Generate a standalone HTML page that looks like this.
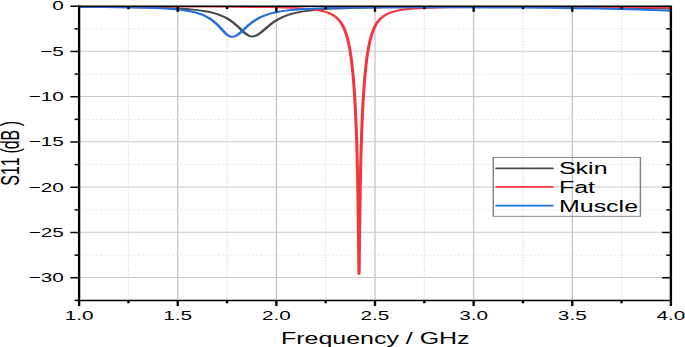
<!DOCTYPE html>
<html><head><meta charset="utf-8"><style>
html,body{margin:0;padding:0;background:#fff;}
svg{display:block;}
text{font-family:"Liberation Sans",sans-serif;fill:#000;font-kerning:none;white-space:pre;}
.tk{font-size:13.3px;}
.tt{font-size:16px;}
.lg{font-size:16px;}
</style></head><body>
<svg width="685" height="347" viewBox="0 0 439.103 347" preserveAspectRatio="none">
<rect x="0" y="0" width="439.103" height="347" fill="#fff"/>
<line x1="82.32" y1="6.2" x2="82.32" y2="300.4" stroke="#dedede" stroke-width="0.8" stroke-dasharray="1.2 1.5"/>
<line x1="113.93" y1="6.2" x2="113.93" y2="300.4" stroke="#cacaca" stroke-width="0.9"/>
<line x1="145.54" y1="6.2" x2="145.54" y2="300.4" stroke="#dedede" stroke-width="0.8" stroke-dasharray="1.2 1.5"/>
<line x1="177.16" y1="6.2" x2="177.16" y2="300.4" stroke="#cacaca" stroke-width="0.9"/>
<line x1="208.77" y1="6.2" x2="208.77" y2="300.4" stroke="#dedede" stroke-width="0.8" stroke-dasharray="1.2 1.5"/>
<line x1="240.38" y1="6.2" x2="240.38" y2="300.4" stroke="#cacaca" stroke-width="0.9"/>
<line x1="272.00" y1="6.2" x2="272.00" y2="300.4" stroke="#dedede" stroke-width="0.8" stroke-dasharray="1.2 1.5"/>
<line x1="303.61" y1="6.2" x2="303.61" y2="300.4" stroke="#cacaca" stroke-width="0.9"/>
<line x1="335.22" y1="6.2" x2="335.22" y2="300.4" stroke="#dedede" stroke-width="0.8" stroke-dasharray="1.2 1.5"/>
<line x1="366.84" y1="6.2" x2="366.84" y2="300.4" stroke="#cacaca" stroke-width="0.9"/>
<line x1="398.45" y1="6.2" x2="398.45" y2="300.4" stroke="#dedede" stroke-width="0.8" stroke-dasharray="1.2 1.5"/>
<line x1="50.71" y1="28.83" x2="430.06" y2="28.83" stroke="#dedede" stroke-width="0.9" stroke-dasharray="1.2 1.5"/>
<line x1="50.71" y1="51.16" x2="430.06" y2="51.16" stroke="#cacaca" stroke-width="1.0"/>
<line x1="50.71" y1="74.09" x2="430.06" y2="74.09" stroke="#dedede" stroke-width="0.9" stroke-dasharray="1.2 1.5"/>
<line x1="50.71" y1="96.42" x2="430.06" y2="96.42" stroke="#cacaca" stroke-width="1.0"/>
<line x1="50.71" y1="119.35" x2="430.06" y2="119.35" stroke="#dedede" stroke-width="0.9" stroke-dasharray="1.2 1.5"/>
<line x1="50.71" y1="141.68" x2="430.06" y2="141.68" stroke="#cacaca" stroke-width="1.0"/>
<line x1="50.71" y1="164.62" x2="430.06" y2="164.62" stroke="#dedede" stroke-width="0.9" stroke-dasharray="1.2 1.5"/>
<line x1="50.71" y1="186.95" x2="430.06" y2="186.95" stroke="#cacaca" stroke-width="1.0"/>
<line x1="50.71" y1="209.88" x2="430.06" y2="209.88" stroke="#dedede" stroke-width="0.9" stroke-dasharray="1.2 1.5"/>
<line x1="50.71" y1="232.21" x2="430.06" y2="232.21" stroke="#cacaca" stroke-width="1.0"/>
<line x1="50.71" y1="255.14" x2="430.06" y2="255.14" stroke="#dedede" stroke-width="0.9" stroke-dasharray="1.2 1.5"/>
<line x1="50.71" y1="277.47" x2="430.06" y2="277.47" stroke="#cacaca" stroke-width="1.0"/>
<defs><clipPath id="pc"><rect x="50.71" y="6.2" width="379.36" height="294.20"/></clipPath></defs><g clip-path="url(#pc)">
<path d="M50.71 6.73 L69.37 6.92 L84.20 7.18 L96.16 7.52 L105.93 7.95 L114.05 8.51 L117.59 8.84 L120.82 9.21 L123.81 9.63 L126.55 10.10 L129.09 10.62 L131.45 11.20 L133.48 11.79 L135.39 12.44 L137.19 13.15 L138.88 13.93 L140.49 14.78 L142.02 15.71 L143.47 16.72 L144.87 17.83 L146.16 18.97 L147.43 20.22 L148.67 21.57 L149.92 23.07 L152.13 26.04 L156.31 32.12 L157.22 33.33 L158.03 34.29 L159.00 35.27 L159.91 35.94 L160.80 36.35 L161.23 36.45 L161.65 36.48 L162.54 36.37 L163.45 36.02 L164.39 35.42 L165.37 34.57 L166.40 33.50 L167.57 32.08 L171.53 26.81 L173.11 24.79 L174.44 23.21 L175.74 21.78 L177.52 20.01 L179.36 18.42 L181.26 17.01 L183.24 15.74 L185.53 14.50 L187.98 13.41 L190.63 12.45 L193.50 11.60 L196.62 10.85 L200.06 10.20 L203.84 9.63 L208.04 9.13 L213.75 8.63 L220.29 8.21 L227.83 7.86 L236.58 7.58 L246.81 7.37 L258.76 7.20 L272.76 7.09 L288.87 7.02 L309.90 7.01 L331.91 7.07 L352.95 7.18 L372.19 7.36 L388.85 7.59 L403.86 7.87 L417.49 8.20 L430.06 8.61" fill="none" stroke="#4a4a4a" stroke-width="1.95" stroke-linejoin="round"/>
<path d="M50.71 6.35 L112.88 6.48 L133.65 6.59 L149.87 6.72 L162.82 6.91 L173.16 7.15 L181.53 7.46 L188.37 7.86 L194.31 8.40 L196.86 8.72 L199.20 9.09 L201.34 9.49 L203.30 9.95 L205.09 10.46 L206.74 11.03 L208.27 11.67 L209.67 12.37 L210.97 13.14 L212.19 14.01 L213.31 14.96 L214.35 15.99 L215.32 17.14 L216.23 18.39 L217.27 20.09 L218.22 21.97 L219.10 24.06 L219.92 26.37 L220.70 28.95 L221.40 31.75 L222.07 34.86 L222.71 38.29 L223.30 42.06 L223.86 46.17 L224.38 50.60 L224.87 55.48 L225.34 60.81 L225.77 66.44 L226.55 79.01 L227.23 93.29 L227.83 109.46 L228.35 127.91 L228.79 148.71 L229.12 169.00 L229.41 192.50 L229.66 219.52 L230.00 265.06 L230.08 271.88 L230.14 273.86 L230.21 271.88 L230.28 265.06 L230.62 219.52 L230.89 191.33 L231.18 168.11 L231.52 147.35 L231.98 126.38 L232.51 107.92 L233.13 91.52 L233.85 76.98 L234.67 64.37 L235.12 58.71 L235.60 53.53 L236.11 48.81 L236.65 44.43 L237.24 40.40 L237.86 36.73 L238.51 33.41 L239.21 30.42 L239.97 27.65 L240.78 25.17 L241.65 22.93 L242.58 20.93 L243.60 19.13 L244.70 17.52 L245.68 16.31 L246.73 15.22 L247.87 14.23 L249.10 13.33 L250.42 12.52 L251.85 11.79 L253.41 11.14 L255.10 10.55 L256.94 10.03 L258.94 9.56 L261.14 9.15 L263.54 8.79 L266.18 8.46 L269.10 8.18 L275.91 7.72 L285.69 7.33 L298.33 7.07 L314.85 6.91 L335.86 6.85 L362.18 6.90 L387.88 7.06 L410.26 7.31 L430.06 7.66" fill="none" stroke="#f4363c" stroke-width="1.95" stroke-linejoin="round"/>
<path d="M50.71 6.83 L67.16 7.03 L80.24 7.29 L90.82 7.64 L99.44 8.08 L106.62 8.64 L109.75 8.98 L112.62 9.36 L115.26 9.78 L117.69 10.25 L119.93 10.78 L122.01 11.36 L123.81 11.95 L125.50 12.61 L127.08 13.32 L128.59 14.11 L130.00 14.96 L131.36 15.90 L132.65 16.92 L133.90 18.04 L135.05 19.19 L136.16 20.44 L137.26 21.81 L138.36 23.31 L140.32 26.29 L144.03 32.42 L144.82 33.62 L145.54 34.59 L146.40 35.57 L147.21 36.25 L147.99 36.65 L148.36 36.75 L148.74 36.79 L149.55 36.69 L150.39 36.35 L151.25 35.77 L152.16 34.94 L153.13 33.85 L154.24 32.41 L158.01 27.01 L159.54 24.91 L160.86 23.24 L162.14 21.74 L163.89 19.91 L165.69 18.29 L167.56 16.84 L169.55 15.54 L171.83 14.29 L174.30 13.20 L176.98 12.24 L179.91 11.39 L183.14 10.66 L186.69 10.03 L190.65 9.48 L195.06 9.01 L202.42 8.46 L211.20 8.03 L221.76 7.71 L234.56 7.48 L250.83 7.34 L270.29 7.28 L292.45 7.32 L315.16 7.45 L334.78 7.64 L352.74 7.89 L368.92 8.20 L383.53 8.57 L396.69 9.01 L408.71 9.52 L419.76 10.12 L430.06 10.81" fill="none" stroke="#1f6fe0" stroke-width="1.95" stroke-linejoin="round"/>
</g>
<rect x="316.22" y="157.5" width="94.29" height="58.80" fill="none" stroke="#808080" stroke-width="0.9"/>
<line x1="318.27" y1="168.3" x2="354.17" y2="168.3" stroke="#4a4a4a" stroke-width="1.8" stroke-linecap="round"/>
<text x="358.33" y="174.00" class="lg">Skin</text>
<line x1="318.27" y1="186.8" x2="354.17" y2="186.8" stroke="#f4363c" stroke-width="1.8" stroke-linecap="round"/>
<text x="358.33" y="192.70" class="lg">Fat</text>
<line x1="318.27" y1="205.6" x2="354.17" y2="205.6" stroke="#1f6fe0" stroke-width="1.8" stroke-linecap="round"/>
<text x="358.33" y="212.00" class="lg">Muscle</text>
<line x1="50.71" y1="6.2" x2="430.06" y2="6.2" stroke="#000" stroke-width="1.5"/>
<line x1="50.71" y1="300.4" x2="430.06" y2="300.4" stroke="#000" stroke-width="1.5"/>
<line x1="50.71" y1="5.45" x2="50.71" y2="301.15" stroke="#000" stroke-width="1.5"/>
<line x1="430.06" y1="5.45" x2="430.06" y2="301.15" stroke="#000" stroke-width="1.5"/>
<line x1="50.71" y1="300.4" x2="50.71" y2="306.0" stroke="#000" stroke-width="1.5"/>
<text x="50.71" y="319.9" class="tk" text-anchor="middle">1.0</text>
<line x1="82.32" y1="300.4" x2="82.32" y2="303.29999999999995" stroke="#000" stroke-width="1.5"/>
<line x1="82.32" y1="6.2" x2="82.32" y2="9.1" stroke="#000" stroke-width="1.5"/>
<line x1="113.93" y1="300.4" x2="113.93" y2="306.0" stroke="#000" stroke-width="1.5"/>
<line x1="113.93" y1="6.2" x2="113.93" y2="11.8" stroke="#000" stroke-width="1.5"/>
<text x="113.93" y="319.9" class="tk" text-anchor="middle">1.5</text>
<line x1="145.54" y1="300.4" x2="145.54" y2="303.29999999999995" stroke="#000" stroke-width="1.5"/>
<line x1="145.54" y1="6.2" x2="145.54" y2="9.1" stroke="#000" stroke-width="1.5"/>
<line x1="177.16" y1="300.4" x2="177.16" y2="306.0" stroke="#000" stroke-width="1.5"/>
<line x1="177.16" y1="6.2" x2="177.16" y2="11.8" stroke="#000" stroke-width="1.5"/>
<text x="177.16" y="319.9" class="tk" text-anchor="middle">2.0</text>
<line x1="208.77" y1="300.4" x2="208.77" y2="303.29999999999995" stroke="#000" stroke-width="1.5"/>
<line x1="208.77" y1="6.2" x2="208.77" y2="9.1" stroke="#000" stroke-width="1.5"/>
<line x1="240.38" y1="300.4" x2="240.38" y2="306.0" stroke="#000" stroke-width="1.5"/>
<line x1="240.38" y1="6.2" x2="240.38" y2="11.8" stroke="#000" stroke-width="1.5"/>
<text x="240.38" y="319.9" class="tk" text-anchor="middle">2.5</text>
<line x1="272.00" y1="300.4" x2="272.00" y2="303.29999999999995" stroke="#000" stroke-width="1.5"/>
<line x1="272.00" y1="6.2" x2="272.00" y2="9.1" stroke="#000" stroke-width="1.5"/>
<line x1="303.61" y1="300.4" x2="303.61" y2="306.0" stroke="#000" stroke-width="1.5"/>
<line x1="303.61" y1="6.2" x2="303.61" y2="11.8" stroke="#000" stroke-width="1.5"/>
<text x="303.61" y="319.9" class="tk" text-anchor="middle">3.0</text>
<line x1="335.22" y1="300.4" x2="335.22" y2="303.29999999999995" stroke="#000" stroke-width="1.5"/>
<line x1="335.22" y1="6.2" x2="335.22" y2="9.1" stroke="#000" stroke-width="1.5"/>
<line x1="366.84" y1="300.4" x2="366.84" y2="306.0" stroke="#000" stroke-width="1.5"/>
<line x1="366.84" y1="6.2" x2="366.84" y2="11.8" stroke="#000" stroke-width="1.5"/>
<text x="366.84" y="319.9" class="tk" text-anchor="middle">3.5</text>
<line x1="398.45" y1="300.4" x2="398.45" y2="303.29999999999995" stroke="#000" stroke-width="1.5"/>
<line x1="398.45" y1="6.2" x2="398.45" y2="9.1" stroke="#000" stroke-width="1.5"/>
<line x1="430.06" y1="300.4" x2="430.06" y2="306.0" stroke="#000" stroke-width="1.5"/>
<text x="430.06" y="319.9" class="tk" text-anchor="middle">4.0</text>
<line x1="45.11" y1="6.20" x2="50.71" y2="6.20" stroke="#000" stroke-width="1.5"/>
<text x="40.90" y="9.90" class="tk" text-anchor="end">0</text>
<line x1="47.81" y1="28.83" x2="50.71" y2="28.83" stroke="#000" stroke-width="1.5"/>
<line x1="427.16" y1="28.83" x2="430.06" y2="28.83" stroke="#000" stroke-width="1.5"/>
<line x1="45.11" y1="51.46" x2="50.71" y2="51.46" stroke="#000" stroke-width="1.5"/>
<line x1="424.46" y1="51.46" x2="430.06" y2="51.46" stroke="#000" stroke-width="1.5"/>
<text x="40.90" y="55.96" class="tk" text-anchor="end">−5</text>
<line x1="47.81" y1="74.09" x2="50.71" y2="74.09" stroke="#000" stroke-width="1.5"/>
<line x1="427.16" y1="74.09" x2="430.06" y2="74.09" stroke="#000" stroke-width="1.5"/>
<line x1="45.11" y1="96.72" x2="50.71" y2="96.72" stroke="#000" stroke-width="1.5"/>
<line x1="424.46" y1="96.72" x2="430.06" y2="96.72" stroke="#000" stroke-width="1.5"/>
<text x="40.90" y="101.22" class="tk" text-anchor="end">−10</text>
<line x1="47.81" y1="119.35" x2="50.71" y2="119.35" stroke="#000" stroke-width="1.5"/>
<line x1="427.16" y1="119.35" x2="430.06" y2="119.35" stroke="#000" stroke-width="1.5"/>
<line x1="45.11" y1="141.98" x2="50.71" y2="141.98" stroke="#000" stroke-width="1.5"/>
<line x1="424.46" y1="141.98" x2="430.06" y2="141.98" stroke="#000" stroke-width="1.5"/>
<text x="40.90" y="146.48" class="tk" text-anchor="end">−15</text>
<line x1="47.81" y1="164.62" x2="50.71" y2="164.62" stroke="#000" stroke-width="1.5"/>
<line x1="427.16" y1="164.62" x2="430.06" y2="164.62" stroke="#000" stroke-width="1.5"/>
<line x1="45.11" y1="187.25" x2="50.71" y2="187.25" stroke="#000" stroke-width="1.5"/>
<line x1="424.46" y1="187.25" x2="430.06" y2="187.25" stroke="#000" stroke-width="1.5"/>
<text x="40.90" y="191.75" class="tk" text-anchor="end">−20</text>
<line x1="47.81" y1="209.88" x2="50.71" y2="209.88" stroke="#000" stroke-width="1.5"/>
<line x1="427.16" y1="209.88" x2="430.06" y2="209.88" stroke="#000" stroke-width="1.5"/>
<line x1="45.11" y1="232.51" x2="50.71" y2="232.51" stroke="#000" stroke-width="1.5"/>
<line x1="424.46" y1="232.51" x2="430.06" y2="232.51" stroke="#000" stroke-width="1.5"/>
<text x="40.90" y="237.01" class="tk" text-anchor="end">−25</text>
<line x1="47.81" y1="255.14" x2="50.71" y2="255.14" stroke="#000" stroke-width="1.5"/>
<line x1="427.16" y1="255.14" x2="430.06" y2="255.14" stroke="#000" stroke-width="1.5"/>
<line x1="45.11" y1="277.77" x2="50.71" y2="277.77" stroke="#000" stroke-width="1.5"/>
<line x1="424.46" y1="277.77" x2="430.06" y2="277.77" stroke="#000" stroke-width="1.5"/>
<text x="40.90" y="282.27" class="tk" text-anchor="end">−30</text>
<line x1="47.81" y1="300.40" x2="50.71" y2="300.40" stroke="#000" stroke-width="1.5"/>
<text x="240.58" y="343.8" class="tt" text-anchor="middle">Frequency / GHz</text>
<text transform="translate(12.18 153.6) rotate(-90)" class="tt" x="-32.17" y="0">S11 <tspan dx="-0.7">(</tspan><tspan dx="-1.1">dB</tspan><tspan dx="3.6">)</tspan></text>
</svg>
</body></html>
